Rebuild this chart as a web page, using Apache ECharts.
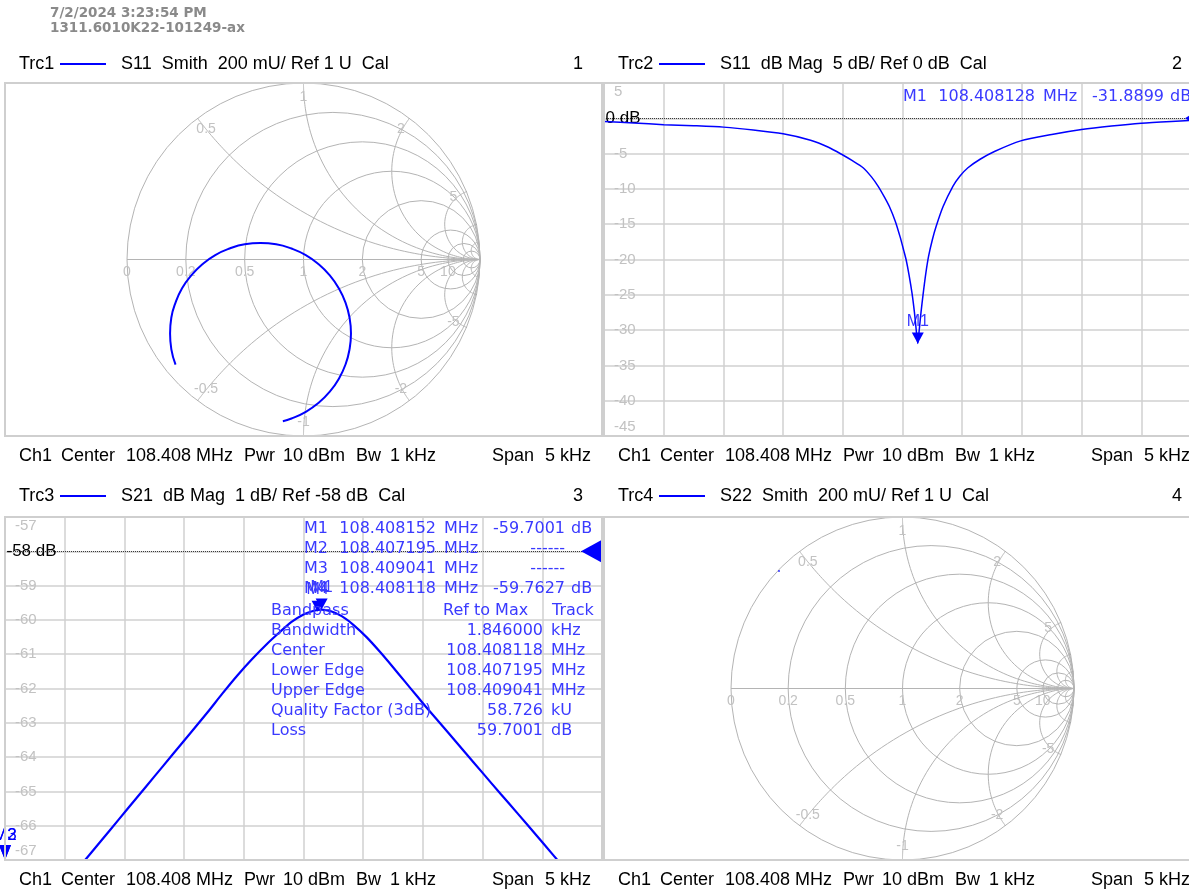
<!DOCTYPE html>
<html>
<head>
<meta charset="utf-8">
<script src="https://cdn.jsdelivr.net/npm/echarts@6/dist/echarts.min.js"></script>
<style>
  html, body { margin: 0; padding: 0; background: #fff; }
  #c { width: 1189px; height: 890px; }
</style>
</head>
<body>
<div id="c"></div>
<script>
// Sweep settings: centre frequency and span; trace x values are offsets from centre in Hz
const centerMHz = 108.408;
const spanHz = 5000;
const divHz = 500;

// Trc1: S11 reflection coefficient, [Re(Γ), Im(Γ)] in sweep order
const s11Gamma = [
  [-0.725, -0.595], [-0.749, -0.508], [-0.756, -0.419], [-0.749, -0.330],
  [-0.725, -0.244], [-0.688, -0.163], [-0.636, -0.090], [-0.573, -0.027],
  [-0.500, 0.025], [-0.419, 0.062], [-0.333, 0.086], [-0.244, 0.093],
  [-0.155, 0.086], [-0.068, 0.062], [0.013, 0.025], [0.086, -0.027],
  [0.149, -0.090], [0.200, -0.163], [0.238, -0.244], [0.261, -0.330],
  [0.269, -0.419], [0.261, -0.508], [0.238, -0.595], [0.200, -0.676],
  [0.149, -0.749], [0.086, -0.812], [0.013, -0.863], [-0.068, -0.901],
  [-0.117, -0.916]
];

// Trc2: S11 magnitude, [offset Hz, dB]
const s11Db = [
  [-2500, -0.45], [-2250, -0.65], [-2000, -0.9], [-1750, -1.05], [-1500, -1.25],
  [-1250, -1.65], [-1000, -2.2], [-770, -3.1], [-620, -4.1], [-500, -5.2],
  [-420, -6.0], [-330, -7.0], [-260, -8.3], [-205, -9.6], [-150, -11.2],
  [-110, -12.5], [-60, -14.6], [-20, -16.8], [10, -18.7], [30, -20.0],
  [55, -22.2], [80, -24.8], [100, -27.5], [115, -30.0], [128, -31.89],
  [140, -30.0], [155, -27.5], [172, -25.0], [195, -22.0], [219, -19.5],
  [250, -17.2], [282, -15.3], [340, -12.5], [423, -9.6], [480, -8.2],
  [548, -7.0], [650, -5.8], [770, -4.7], [990, -3.2], [1250, -2.3],
  [1500, -1.6], [1750, -1.1], [2000, -0.7], [2250, -0.45], [2500, -0.25]
];

// Trc3: S21 magnitude, [offset Hz, dB]
const s21Db = [
  [-2000, -67.72], [-1853, -67.10], [-1700, -66.46], [-1550, -65.83], [-1400, -65.20],
  [-1250, -64.57], [-1100, -63.94], [-950, -63.31], [-805, -62.70], [-680, -62.15],
  [-554, -61.62], [-430, -61.14], [-300, -60.68], [-200, -60.36], [-100, -60.06],
  [0, -59.84], [80, -59.74], [152, -59.70], [230, -59.75], [320, -59.89],
  [420, -60.15], [530, -60.51], [640, -60.93], [750, -61.38], [850, -61.80],
  [950, -62.22], [1041, -62.60], [1200, -63.24], [1350, -63.85], [1500, -64.46],
  [1650, -65.07], [1800, -65.67], [1950, -66.28], [2090, -66.85], [2200, -67.30]
];

// Trc4: S22 reflection coefficient (only one visible point)
const s22Gamma = [[-0.720, 0.685]];

// Smith chart grid: constant-resistance circles and constant-reactance arcs
const smithR = [0, 0.2, 0.5, 1, 2, 5, 10, 20];
const smithRLabels = [0, 0.2, 0.5, 1, 2, 5, 10];
const smithX = [0.5, 1, 2, 5, 10, 20];
const smithXLabels = [0.5, 1, 2, 5];

// Cartesian diagram scales
const s11Axis = { min: -45, max: 5, step: 5, ref: 0, refText: '0 dB' };
const s21Axis = { min: -67, max: -57, step: 1, ref: -58, refText: '-58 dB' };

// Marker readouts: name, frequency (MHz), value, unit
const s11Markers = [['M1', '108.408128', '-31.8899', 'dB']];
const s21Markers = [
  ['M1', '108.408152', '-59.7001', 'dB'],
  ['M2', '108.407195', '------', ''],
  ['M3', '108.409041', '------', ''],
  ['M4', '108.408118', '-59.7627', 'dB']
];
const bandpassHead = ['Bandpass', 'Ref to Max', 'Track'];
const bandpassRows = [
  ['Bandwidth', '1.846000', 'kHz'],
  ['Center', '108.408118', 'MHz'],
  ['Lower Edge', '108.407195', 'MHz'],
  ['Upper Edge', '108.409041', 'MHz'],
  ['Quality Factor (3dB)', '58.726', 'kU'],
  ['Loss', '59.7001', 'dB']
];

// Trace headers and channel footers
const traces = [
  { trc: 'Trc1', text: 'S11  Smith  200 mU/ Ref 1 U  Cal', idx: '1' },
  { trc: 'Trc2', text: 'S11  dB Mag  5 dB/ Ref 0 dB  Cal', idx: '2' },
  { trc: 'Trc3', text: 'S21  dB Mag  1 dB/ Ref -58 dB  Cal', idx: '3' },
  { trc: 'Trc4', text: 'S22  Smith  200 mU/ Ref 1 U  Cal', idx: '4' }
];
const footerItems = ['Ch1', 'Center', '108.408 MHz', 'Pwr', '10 dBm', 'Bw', '1 kHz', 'Span', '5 kHz'];
const stampLines = ['7/2/2024 3:23:54 PM', '1311.6010K22-101249-ax'];

// ---------------------------------------------------------------------------
const BLUE = '#0000ff';
const MKBLUE = '#3a3aff';
const HEAD_FONT = '18px "Liberation Sans", Arial, sans-serif';
const MK_FONT = '16px "DejaVu Sans", Verdana, sans-serif';
const GRID_GREY = '#d0d0d0';
const LABEL_GREY = '#c2c2c2';

const hz = f => Math.round((parseFloat(f) - centerMHz) * 1e6);
const half = spanHz / 2;

function smithGridData() {
  const d = smithR.map(r => [0, r, smithRLabels.includes(r) ? 1 : 0]);
  smithX.forEach(x => {
    const l = smithXLabels.includes(x) ? 1 : 0;
    d.push([1, x, l]);
    d.push([1, -x, l]);
  });
  d.push([2, 0, 0]);
  return d;
}

function renderSmith(params, api) {
  const kind = api.value(0), v = api.value(1), lab = api.value(2);
  const line = { stroke: '#b4b4b4', lineWidth: 1, fill: null };
  const txt = (s, p) => ({
    type: 'text', x: p[0], y: p[1],
    style: { text: s, fill: LABEL_GREY, font: '14px "Liberation Sans", Arial, sans-serif',
             align: 'center', verticalAlign: 'middle', textAlign: 'center', textVerticalAlign: 'middle' }
  });
  const ch = [];
  if (kind === 0) {
    const c = api.coord([v / (v + 1), 0]);
    const rad = api.size([1 / (v + 1), 0])[0];
    ch.push({ type: 'circle', shape: { cx: c[0], cy: c[1], r: rad }, style: line });
    if (lab) {
      const p = api.coord([(v - 1) / (v + 1), 0]);
      ch.push(txt(String(v), [p[0], p[1] + 13]));
    }
  } else if (kind === 1) {
    const pts = [];
    for (let k = 0; k <= 180; k++) {
      const r = k === 0 ? 0 : Math.pow(10, -3 + k * 0.04);
      const den = (r + 1) * (r + 1) + v * v;
      pts.push(api.coord([(r * r - 1 + v * v) / den, 2 * v / den]));
    }
    pts.push(api.coord([1, 0]));
    ch.push({ type: 'polyline', shape: { points: pts }, style: line });
    if (lab) {
      const den = 1 + v * v;
      const p = api.coord([0.92 * (v * v - 1) / den, 0.92 * 2 * v / den]);
      ch.push(txt(String(v), p));
    }
  } else {
    const a = api.coord([-1, 0]), b = api.coord([1, 0]);
    ch.push({ type: 'line', shape: { x1: a[0], y1: a[1], x2: b[0], y2: b[1] }, style: line });
  }
  return { type: 'group', children: ch };
}

function smithAxes(gi) {
  return {
    x: { gridIndex: gi, type: 'value', min: -1, max: 1, show: false },
    y: { gridIndex: gi, type: 'value', min: -1, max: 1, show: false }
  };
}

function rectAxes(gi, ax) {
  const lab = { color: LABEL_GREY, fontSize: 15, fontFamily: 'Liberation Sans' };
  return {
    x: {
      gridIndex: gi, type: 'value', min: -half, max: half, interval: divHz,
      axisLine: { show: false }, axisTick: { show: false }, axisLabel: { show: false },
      splitLine: { show: true, lineStyle: { color: GRID_GREY, width: 1.5 } }
    },
    y: {
      gridIndex: gi, type: 'value', min: ax.min, max: ax.max, interval: ax.step,
      axisLine: { show: false }, axisTick: { show: false },
      splitLine: { show: true, lineStyle: { color: GRID_GREY, width: 1.5 } },
      axisLabel: Object.assign({
        inside: true, margin: 10,
        formatter: v => v === ax.ref ? '' : v === ax.max ? '{t|' + v + '}' : v === ax.min ? '{b|' + v + '}' : '{n|' + v + '}',
        rich: {
          n: Object.assign({}, lab),
          t: Object.assign({ padding: [18, 0, 0, 0] }, lab),
          b: Object.assign({ padding: [0, 0, 18, 0] }, lab)
        }
      }, lab)
    }
  };
}

const downTri = 'path://M0,0 L10,0 L5,10 Z';
const leftTri = 'path://M10,0 L10,10 L0,5 Z';

function markerPoint(m) {
  const val = parseFloat(m[2]);
  return {
    name: m[0], coord: [hz(m[1]), val], symbol: downTri, symbolSize: [12, 11], symbolOffset: [0, -5.5],
    itemStyle: { color: BLUE },
    label: { show: true, position: 'top', distance: 3, formatter: m[0], color: MKBLUE,
             fontSize: 16, fontFamily: 'Liberation Sans' }
  };
}

function refPoints(ax, triSize) {
  return [
    { coord: [-half, ax.ref], symbol: 'circle', symbolSize: 1, itemStyle: { color: 'rgba(0,0,0,0)' },
      label: { show: true, position: 'right', distance: 1, formatter: ax.refText, color: '#000',
               fontSize: 17, fontFamily: 'Liberation Sans' } },
    { coord: [half, ax.ref], symbol: leftTri, symbolSize: triSize, symbolOffset: [-triSize[0] / 2, 0],
      itemStyle: { color: BLUE }, label: { show: false } }
  ];
}

const refLine = v => ({
  silent: true, symbol: 'none', animation: false, label: { show: false },
  lineStyle: { type: 'dotted', color: '#3a3a3a', width: 1 }, data: [{ yAxis: v }]
});

const a0 = smithAxes(0), a1 = rectAxes(1, s11Axis), a2 = rectAxes(2, s21Axis), a3 = smithAxes(3);

// Out-of-range bandpass edge markers sit at the diagram corner
const edgeMarkers = s21Markers.filter(m => m[2] === '------').map(m => ({
  coord: [-half, s21Axis.min], symbol: downTri, symbolSize: [12, 15], symbolOffset: [0, -7.5],
  itemStyle: { color: BLUE },
  label: { show: true, position: 'top', distance: 1, formatter: m[0], color: BLUE, fontSize: 17,
           fontFamily: 'Liberation Sans' }
}));
const validS21 = s21Markers.filter(m => m[2] !== '------');

// ---------------------------------------------------------------------------
// Text decorations: stamps, headers, footers, marker tables, panel frames
const graphics = [];
const frames = [[5, 83, 597, 353], [604, 83, 597, 353], [5, 517, 597, 343], [604, 517, 597, 343]];
frames.forEach(f => graphics.push({
  type: 'rect', shape: { x: f[0], y: f[1], width: f[2], height: f[3] }, z: 100,
  style: { fill: null, stroke: '#cfcfcf', lineWidth: 2 }, silent: true
}));
function T(text, x, y, font, fill, align) {
  graphics.push({ type: 'text', x, y, z: 120, silent: true,
    style: { text, font, fill, align: align || 'left', verticalAlign: 'middle',
             textAlign: align || 'left', textVerticalAlign: 'middle' } });
}
stampLines.forEach((s, i) => T(s, 50, 13 + i * 15, 'bold 13.5px "DejaVu Sans", sans-serif', '#8a8a8a'));

const panelOrigin = [[0, 64, 456], [599, 64, 456], [0, 496, 880], [599, 496, 880]];
const footerX = [19, 61, 126, 244, 283, 356, 390, 492, 545];
traces.forEach((t, i) => {
  const [ox, hy, fy] = panelOrigin[i];
  T(t.trc, ox + 19, hy, HEAD_FONT, '#000');
  graphics.push({ type: 'line', z: 120, silent: true, shape: { x1: ox + 60, y1: hy, x2: ox + 106, y2: hy },
                  style: { stroke: BLUE, lineWidth: 2 } });
  T(t.text, ox + 121, hy, HEAD_FONT, '#000');
  T(t.idx, ox + 583, hy, HEAD_FONT, '#000', 'right');
  footerItems.forEach((s, k) => T(s, ox + footerX[k], fy, HEAD_FONT, '#000'));
});

function markerTable(rows, ox, y0) {
  rows.forEach((m, i) => {
    const y = y0 + i * 20;
    T(m[0], ox + 304, y, MK_FONT, MKBLUE);
    T(m[1], ox + 436, y, MK_FONT, MKBLUE, 'right');
    T('MHz', ox + 444, y, MK_FONT, MKBLUE);
    T(m[2], ox + 565, y, MK_FONT, MKBLUE, 'right');
    if (m[3]) T(m[3], ox + 571, y, MK_FONT, MKBLUE);
  });
}
markerTable(s11Markers, 599, 97);
markerTable(s21Markers, 0, 529);
T(bandpassHead[0], 271, 611, MK_FONT, MKBLUE);
T(bandpassHead[1], 443, 611, MK_FONT, MKBLUE);
T(bandpassHead[2], 552, 611, MK_FONT, MKBLUE);
bandpassRows.forEach((r, i) => {
  const y = 631 + i * 20;
  T(r[0], 271, y, MK_FONT, MKBLUE);
  T(r[1], 543, y, MK_FONT, MKBLUE, 'right');
  T(r[2], 551, y, MK_FONT, MKBLUE);
});

// ---------------------------------------------------------------------------
const chart = echarts.init(document.getElementById('c'), null, { renderer: 'canvas', width: 1189, height: 890 });
chart.setOption({
  backgroundColor: '#ffffff',
  animation: false,
  grid: [
    { left: 127, top: 83, width: 353, height: 353, outerBoundsMode: 'none' },
    { left: 604, top: 83, width: 597, height: 353, outerBoundsMode: 'none' },
    { left: 5, top: 517, width: 597, height: 343, outerBoundsMode: 'none' },
    { left: 731, top: 517, width: 343, height: 343, outerBoundsMode: 'none' }
  ],
  xAxis: [a0.x, a1.x, a2.x, a3.x],
  yAxis: [a0.y, a1.y, a2.y, a3.y],
  graphic: graphics,
  series: [
    { type: 'custom', xAxisIndex: 0, yAxisIndex: 0, data: smithGridData(), renderItem: renderSmith,
      silent: true, clip: false, z: 1 },
    { type: 'custom', xAxisIndex: 3, yAxisIndex: 3, data: smithGridData(), renderItem: renderSmith,
      silent: true, clip: false, z: 1 },
    { name: 'Trc1', type: 'line', xAxisIndex: 0, yAxisIndex: 0, data: s11Gamma, smooth: 0.5,
      showSymbol: false, clip: false, lineStyle: { color: BLUE, width: 2 }, z: 5 },
    { name: 'Trc4', type: 'scatter', xAxisIndex: 3, yAxisIndex: 3, data: s22Gamma, symbolSize: 2,
      itemStyle: { color: BLUE }, z: 5 },
    { name: 'Trc2', type: 'line', xAxisIndex: 1, yAxisIndex: 1, data: s11Db, smooth: 0.25,
      showSymbol: false, lineStyle: { color: BLUE, width: 1.5 }, z: 5,
      markLine: refLine(s11Axis.ref),
      markPoint: { animation: false, data: refPoints(s11Axis, [16, 20]).concat(s11Markers.map(markerPoint)) } },
    { name: 'Trc3', type: 'line', xAxisIndex: 2, yAxisIndex: 2, data: s21Db, smooth: 0.25,
      showSymbol: false, lineStyle: { color: BLUE, width: 2.2 }, z: 5,
      markLine: refLine(s21Axis.ref),
      markPoint: { animation: false,
        data: refPoints(s21Axis, [21, 23]).concat(validS21.slice().reverse().map(markerPoint), edgeMarkers) } }
  ]
});
</script>
</body>
</html>
